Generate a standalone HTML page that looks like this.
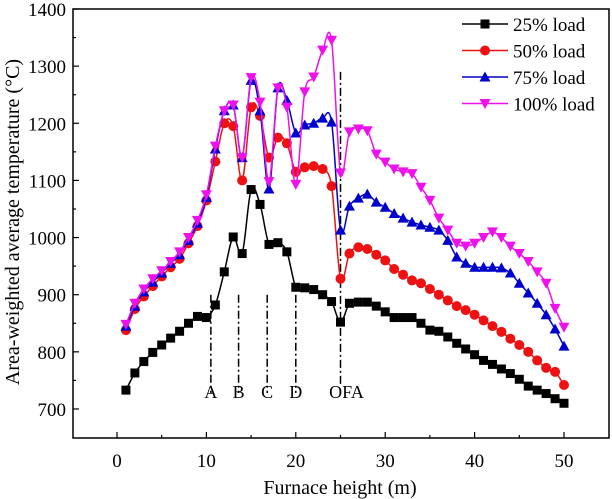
<!DOCTYPE html>
<html><head><meta charset="utf-8"><style>
html,body{margin:0;padding:0;background:#fff}
svg{display:block;font-family:"Liberation Serif","Times New Roman","DejaVu Serif",serif}
svg text{font-family:"Liberation Serif","Times New Roman","DejaVu Serif",serif;fill:#000}
</style></head><body>
<svg id="chart" width="612" height="499" viewBox="0 0 612 499" xmlns="http://www.w3.org/2000/svg" font-family="Liberation Serif, Times New Roman, DejaVu Serif, serif">
<g id="axes"></g>
<g id="series"></g>
<g id="legend"></g>
</svg>
<script>
const xs = Array.from({length:50},(_, i)=>i+1);
const load25 = [733,763,783,799,812,824,836,850,862,860,882,940,1001,972,1084,1058,988,991,975,913,912,909,900,888,852,885,887,887,880,870,860,860,860,850,838,836,826,815,805,795,785,778,770,762,752,740,733,727,718,710];
const load50 = [838,875,897,915,932,948,963,990,1020,1065,1133,1200,1195,1100,1228,1213,1140,1175,1165,1115,1123,1125,1120,1090,928,972,983,980,970,960,945,935,925,920,910,900,890,880,873,865,855,845,835,823,812,800,785,772,765,742];
const load75 = [845,880,905,922,938,955,970,995,1025,1070,1155,1222,1232,1140,1275,1222,1085,1262,1240,1183,1197,1200,1209,1202,1013,1055,1069,1076,1062,1053,1042,1034,1027,1022,1018,1013,995,966,955,948,948,948,947,938,920,903,885,865,840,810];
const load100 = [848,885,910,928,942,958,975,1000,1030,1075,1160,1222,1232,1140,1280,1237,1098,1262,1228,1093,1255,1281,1328,1345,1113,1185,1190,1187,1146,1132,1120,1115,1112,1088,1065,1034,1013,990,985,990,1000,1010,1000,985,972,958,940,920,876,843];
const seriesNames = ["25% load","50% load","75% load","100% load"];
const xTicks = [0,10,20,30,40,50];
const yTicks = [700,800,900,1000,1100,1200,1300,1400];
const markerLabels = ["A","B","C","D","OFA"];
const markerXs = [10.5,13.6,16.8,20,25];

const FF="Liberation Serif, Times New Roman, DejaVu Serif, serif";
const L=73,R=609,T=9,B=438;
const sx=v=>117+(v)*8.94;
const sy=v=>9+(1400-v)*0.5714;
const NS="http://www.w3.org/2000/svg";
function mk(tag,attrs,parent){const e=document.createElementNS(NS,tag);for(const k in attrs)e.setAttribute(k,attrs[k]);if(tag==='text')e.setAttribute('font-family',FF);parent.appendChild(e);return e;}
const axes=document.getElementById('axes'),sg=document.getElementById('series'),lg=document.getElementById('legend');

let frame=mk('rect',{x:L,y:T,width:R-L,height:B-T,fill:'none',stroke:'#000','stroke-width':1.5},axes);


for(let v=0;v<=50;v+=5){const x=sx(v);const len=v%10===0?6:3;
 let t=mk('line',{x1:x,x2:x,y1:B,y2:B-len,stroke:'#000','stroke-width':1.2},axes);
 
 }
xTicks.forEach(v=>{let t=mk('text',{x:sx(v),y:467,'font-size':19,'text-anchor':'middle'},axes);t.textContent=v;
 
 });
for(let v=700;v<=1400;v+=50){const y=sy(v);const len=v%100===0?6:3;
 let t=mk('line',{x1:L,x2:L+len,y1:y,y2:y,stroke:'#000','stroke-width':1.2},axes);
 
 }
yTicks.forEach(v=>{let t=mk('text',{x:66,y:sy(v)+7,'font-size':19,'text-anchor':'end'},axes);t.textContent=v;
 
 });
let xt=mk('text',{x:340,y:494,'font-size':20,'text-anchor':'middle'},axes);xt.textContent='Furnace height (m)';


let yt=mk('text',{x:0,y:0,'font-size':20,'text-anchor':'middle',transform:'translate(19,222) rotate(-90)'},axes);yt.textContent='Area-weighted average temperature (°C)';



const mTop=[900,900,900,900,1290];
markerXs.forEach((m,i)=>{const x=sx(m);
 let l=mk('line',{x1:x,x2:x,y1:sy(mTop[i]),y2:i===4?sy(740):sy(728),stroke:'#000','stroke-width':1.5,'stroke-dasharray':'8,3,2,3'},sg);
 
 
 let t=mk('text',{x:x+(i===4?6:0),y:398,'font-size':18,'text-anchor':'middle'},sg);t.textContent=markerLabels[i];
 
 });

function cr(pts){let d=`M${pts[0][0]},${pts[0][1]}`;
 for(let i=0;i<pts.length-1;i++){const p0=pts[i-1]||pts[i],p1=pts[i],p2=pts[i+1],p3=pts[i+2]||p2;
 d+=` C${p1[0]+(p2[0]-p0[0])/6},${p1[1]+(p2[1]-p0[1])/6} ${p2[0]-(p3[0]-p1[0])/6},${p2[1]-(p3[1]-p1[1])/6} ${p2[0]},${p2[1]}`;}return d;}
function marker(type,x,y,c,parent){let e;
 if(type==='sq')e=mk('rect',{x:x-4.5,y:y-4.5,width:9,height:9,fill:c},parent);
 else if(type==='ci')e=mk('circle',{cx:x,cy:y,r:5,fill:c},parent);
 else if(type==='up')e=mk('polygon',{points:`${x},${y-5.5} ${x-5.5},${y+4.5} ${x+5.5},${y+4.5}`,fill:c},parent);
 else e=mk('polygon',{points:`${x},${y+5.5} ${x-5.5},${y-4.5} ${x+5.5},${y-4.5}`,fill:c},parent);
 return e;}
const all=[load25,load50,load75,load100],cols=['#000','#ee1111','#0000cc','#ee11ee'],types=['sq','ci','up','dn'],keys=['25','50','75','100'];
all.forEach((vals,si)=>{const g=mk('g',{},sg);
 
 
 const pts=vals.map((v,i)=>[sx(xs[i]),sy(v)]);
 let p=mk('path',{d:cr(pts),fill:'none',stroke:cols[si],'stroke-width':1.5},g);
 
 
 pts.forEach(q=>{let m=marker(types[si],q[0],q[1],cols[si],g);
  
  });});

seriesNames.forEach((n,i)=>{const y=24+i*26.5;const g=mk('g',{},lg);
 
 
 mk('line',{x1:462,x2:508,y1:y,y2:y,stroke:cols[i],'stroke-width':1.5},g);
 marker(types[i],485,y,cols[i],g);
 let t=mk('text',{x:513,y:y+7,'font-size':19},g);t.textContent=n;});
</script>
</body></html>
